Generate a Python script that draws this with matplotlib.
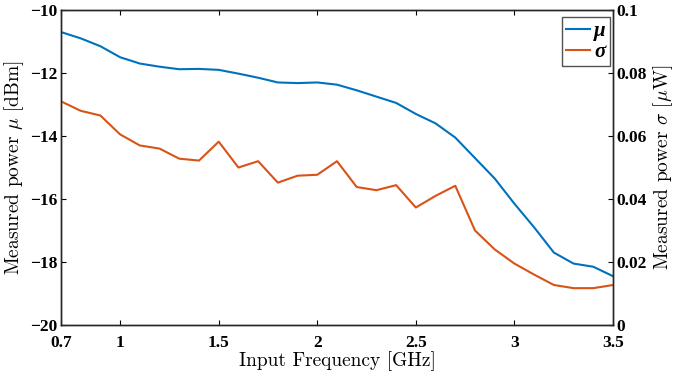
import numpy as np
import matplotlib
matplotlib.use("Agg")
import matplotlib.pyplot as plt

# Input frequency (GHz)
freq_ghz = [0.7, 0.8, 0.9, 1.0, 1.1, 1.2, 1.3, 1.4, 1.5, 1.6, 1.7, 1.8, 1.9, 2.0,
            2.1, 2.2, 2.3, 2.4, 2.5, 2.6, 2.7, 2.8, 2.9, 3.0, 3.1, 3.2, 3.3, 3.4, 3.5]
# mean measured power (dBm)
mu_dbm = [-10.7, -10.9, -11.15, -11.5, -11.7, -11.8, -11.88, -11.87, -11.9, -12.02,
          -12.15, -12.3, -12.32, -12.3, -12.37, -12.55, -12.75, -12.95, -13.3, -13.6,
          -14.05, -14.7, -15.35, -16.15, -16.9, -17.7, -18.05, -18.15, -18.45]
# std of measured power (uW)
sigma_uw = [0.071, 0.068, 0.0665, 0.0605, 0.057, 0.056, 0.0528, 0.0522, 0.0582, 0.050,
            0.052, 0.0452, 0.0474, 0.0477, 0.052, 0.0438, 0.0428, 0.0444, 0.0373, 0.041,
            0.0442, 0.030, 0.024, 0.0195, 0.016, 0.0127, 0.0117, 0.0117, 0.0127]

xticks = [0.7, 1, 1.5, 2, 2.5, 3, 3.5]
xtick_labels = ["0.7", "1", "1.5", "2", "2.5", "3", "3.5"]
yticks_mu = [-20, -18, -16, -14, -12, -10]
yticks_sigma = [0, 0.02, 0.04, 0.06, 0.08, 0.1]
ytick_sigma_labels = ["0", "0.02", "0.04", "0.06", "0.08", "0.1"]

# tick labels: bold Times-like; axis labels: LaTeX-like Computer Modern
plt.rcParams["font.family"] = ["Liberation Serif", "DejaVu Serif"]
plt.rcParams["font.weight"] = "bold"
plt.rcParams["mathtext.fontset"] = "cm"
LABEL_FONT = dict(family="cmr10", weight="normal", size=14)

fig = plt.figure(figsize=(6.74, 3.76), dpi=100)
ax = fig.add_axes([0.0905, 0.1356, 0.819, 0.8378])
ax2 = ax.twinx()

l1, = ax.plot(freq_ghz, mu_dbm, color="#0072BD", lw=1.5)
l2, = ax2.plot(freq_ghz, sigma_uw, color="#D95319", lw=1.5)

ax.set_xlim(0.7, 3.5)
ax.set_ylim(-20, -10)
ax2.set_ylim(0, 0.1)
ax.set_xticks(xticks)
ax.set_xticklabels(xtick_labels)
ax.set_yticks(yticks_mu)
ax.set_yticklabels(["\u2212%d" % abs(v) for v in yticks_mu])
ax2.set_yticks(yticks_sigma)
ax2.set_yticklabels(ytick_sigma_labels)

ax.tick_params(axis="x", direction="in", top=True, labelsize=12.5, length=3.5, pad=7)
ax.tick_params(axis="y", direction="in", labelsize=12.5, length=3.5, pad=2.5)
ax2.tick_params(axis="y", direction="in", labelsize=12.5, length=3.5, pad=2.5)
for a in (ax, ax2):
    for s in a.spines.values():
        s.set_linewidth(1.0)
        s.set_color("#262626")

ax.set_xlabel("Input Frequency [GHz]", fontdict=LABEL_FONT, labelpad=0)
ax.set_ylabel(r"Measured power $\mu$ [dBm]", fontdict=LABEL_FONT, labelpad=3)
ax2.set_ylabel(r"Measured power $\sigma$ [$\mu$W]", fontdict=LABEL_FONT, labelpad=3)

leg = ax2.legend([l1, l2], ["\u03bc", "\u03c3"], loc="upper right",
                 bbox_to_anchor=(1 - 3 / 552, 1 - 7 / 315),
                 prop=dict(family="Liberation Serif", style="italic", weight="bold", size=15),
                 frameon=True, fancybox=False, handlelength=1.15,
                 handletextpad=0.2, borderpad=0.2, labelspacing=0.05,
                 borderaxespad=0)
leg.get_frame().set_edgecolor("#262626")
leg.get_frame().set_linewidth(1.0)

fig.savefig("out.png", dpi=100)
